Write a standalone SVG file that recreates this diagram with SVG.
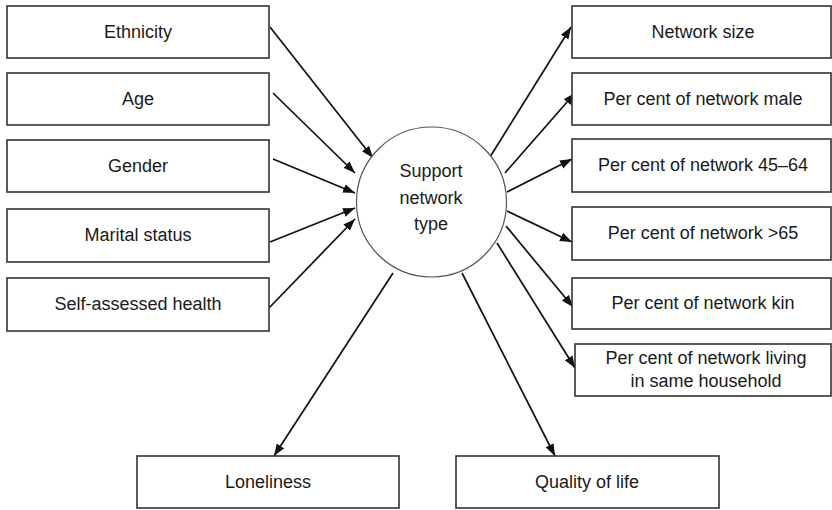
<svg xmlns="http://www.w3.org/2000/svg" width="832" height="510" viewBox="0 0 832 510">
<style>
.box{fill:#fff;stroke:#333;stroke-width:1.6}
.c{fill:#fff;stroke:#555;stroke-width:1.2}
.t{font-family:"Liberation Sans",Arial,sans-serif;font-size:18px;fill:#1a1a1a;text-anchor:middle}
.e{stroke:#111;stroke-width:1.7;fill:none;marker-end:url(#ah)}
</style>
<defs>
<marker id="ah" markerUnits="userSpaceOnUse" markerWidth="14" markerHeight="10" refX="12" refY="5" orient="auto">
<path d="M0,0.5 L12,5 L0,9.5 Z" fill="#111"/>
</marker>
</defs>
<rect width="832" height="510" fill="#fff"/>
<g id="edges">
<line class="e" x1="270" y1="27" x2="373" y2="158"/>
<line class="e" x1="273" y1="93" x2="355" y2="173"/>
<line class="e" x1="273" y1="159" x2="355" y2="193"/>
<line class="e" x1="270" y1="242" x2="355" y2="208"/>
<line class="e" x1="269" y1="308" x2="355" y2="219"/>
<line class="e" x1="490" y1="157" x2="571" y2="27"/>
<line class="e" x1="505" y1="173" x2="575" y2="93"/>
<line class="e" x1="507" y1="192" x2="572" y2="159"/>
<line class="e" x1="507" y1="211" x2="572" y2="242"/>
<line class="e" x1="506" y1="226" x2="573" y2="307"/>
<line class="e" x1="497" y1="243" x2="575" y2="368"/>
<line class="e" x1="393" y1="273" x2="274" y2="456"/>
<line class="e" x1="462" y1="273" x2="555" y2="456"/>
</g>
<g id="ethnicity"><rect class="box" x="7" y="6" width="262" height="52"/><text class="t" x="138" y="38">Ethnicity</text></g>
<g id="age"><rect class="box" x="7" y="73" width="262" height="52"/><text class="t" x="138" y="105">Age</text></g>
<g id="gender"><rect class="box" x="7" y="140" width="262" height="52"/><text class="t" x="138" y="172">Gender</text></g>
<g id="marital"><rect class="box" x="7" y="209" width="262" height="53"/><text class="t" x="138" y="241">Marital status</text></g>
<g id="health"><rect class="box" x="7" y="278" width="262" height="53"/><text class="t" x="138" y="310">Self-assessed health</text></g>
<g id="support"><circle class="c" cx="431.5" cy="202" r="75"/><text class="t" x="431" y="177">Support</text><text class="t" x="431" y="204">network</text><text class="t" x="431" y="230">type</text></g>
<g id="size"><rect class="box" x="572" y="6" width="259" height="52"/><text class="t" x="703" y="38">Network size</text></g>
<g id="male"><rect class="box" x="572" y="73" width="259" height="52"/><text class="t" x="703" y="105">Per cent of network male</text></g>
<g id="age4564"><rect class="box" x="572" y="139" width="259" height="53"/><text class="t" x="703" y="171">Per cent of network 45–64</text></g>
<g id="age65"><rect class="box" x="572" y="207" width="259" height="53"/><text class="t" x="703" y="239">Per cent of network &gt;65</text></g>
<g id="kin"><rect class="box" x="572" y="278" width="259" height="51"/><text class="t" x="703" y="309">Per cent of network kin</text></g>
<g id="household"><rect class="box" x="575" y="344" width="256" height="52"/><text class="t" x="706" y="364">Per cent of network living</text><text class="t" x="706" y="387">in same household</text></g>
<g id="loneliness"><rect class="box" x="137" y="456" width="262" height="52"/><text class="t" x="268" y="488">Loneliness</text></g>
<g id="quality"><rect class="box" x="456" y="456" width="263" height="52"/><text class="t" x="587" y="488">Quality of life</text></g>
</svg>
